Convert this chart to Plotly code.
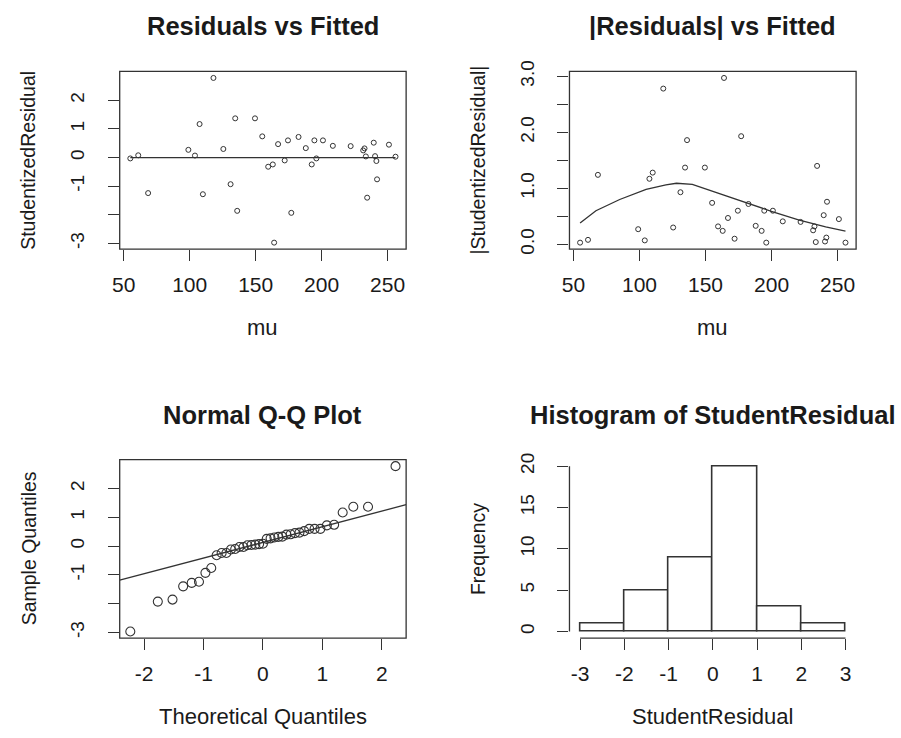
import plotly.graph_objects as go
from statistics import NormalDist

# ---------------- data ----------------
mu = [55, 61, 68.5, 99, 104, 107.5, 110, 118, 125.5, 131, 134.5, 136, 149.5, 155,
      159.5, 163, 164, 167, 172, 174.5, 177, 182.5, 188, 192.5, 194.5, 196, 201,
      208.5, 222, 231.5, 232.5, 233.5, 234.5, 239.5, 240.5, 241.5, 242, 251, 256]
student_residual = [-0.03, 0.08, -1.24, 0.27, 0.07, 1.17, -1.28, 2.78, 0.30, -0.93,
                    1.37, -1.86, 1.37, 0.74, -0.32, -0.24, -2.97, 0.47, -0.10, 0.60,
                    -1.93, 0.72, 0.33, -0.24, 0.60, -0.03, 0.60, 0.41, 0.40, 0.25,
                    0.32, 0.04, -1.40, 0.52, 0.05, -0.12, -0.76, 0.45, 0.03]
abs_residual = [abs(v) for v in student_residual]

lowess_x = [55, 67, 85, 105, 120, 128, 140, 160, 182, 201, 221, 241, 256]
lowess_y = [0.38, 0.60, 0.80, 0.98, 1.06, 1.09, 1.07, 0.91, 0.72, 0.58, 0.43, 0.31, 0.235]

hist_edges = [-3, -2, -1, 0, 1, 2, 3]
hist_counts = [1, 5, 9, 20, 3, 1]

titles = ["Residuals vs Fitted", "|Residuals| vs Fitted", "Normal Q-Q Plot",
          "Histogram of StudentResidual"]
xlabels = ["mu", "mu", "Theoretical Quantiles", "StudentResidual"]
ylabels = ["StudentizedResidual", "|StudentizedResidual|", "Sample Quantiles", "Frequency"]

y1_ticks = [-3, -2, -1, 0, 1, 2]
y1_text = ["-3", "", "-1", "0", "1", "2"]
y2_ticks = [0, 0.5, 1, 1.5, 2, 2.5, 3]
y2_text = ["0.0", "", "1.0", "", "2.0", "", "3.0"]
x1_ticks = [50, 100, 150, 200, 250]
x1_text = ["50", "100", "150", "200", "250"]
x3_ticks = [-2, -1, 0, 1, 2]
x3_text = ["-2", "-1", "0", "1", "2"]
x4_ticks = [-3, -2, -1, 0, 1, 2, 3]
x4_text = ["-3", "-2", "-1", "0", "1", "2", "3"]
y4_ticks = [0, 5, 10, 15, 20]
y4_text = ["0", "5", "10", "15", "20"]

# ---------------- derived (R-like) ----------------
n = len(student_residual)
sorted_res = sorted(student_residual)
nd = NormalDist()
theo = [nd.inv_cdf((i + 0.5) / n) for i in range(n)]


def quant7(vals, p):
    s = sorted(vals)
    h = (len(s) - 1) * p
    lo = int(h)
    hi = min(lo + 1, len(s) - 1)
    return s[lo] + (h - lo) * (s[hi] - s[lo])


q1, q3 = quant7(student_residual, 0.25), quant7(student_residual, 0.75)
t1, t3 = nd.inv_cdf(0.25), nd.inv_cdf(0.75)
slope = (q3 - q1) / (t3 - t1)
intercept = q1 - slope * t1


def rrange(vals):
    lo, hi = min(vals), max(vals)
    d = hi - lo
    return [lo - 0.04 * d, hi + 0.04 * d]


xr1 = rrange(mu)
yr1 = rrange(student_residual)
yr2 = rrange(abs_residual)
xr3 = rrange(theo)
yr3 = rrange(sorted_res)
xr4 = rrange(hist_edges)
yr4 = rrange([0, max(hist_counts)])

qq_line_x = xr3
qq_line_y = [intercept + slope * v for v in xr3]

# ---------------- figure ----------------
W, H = 901, 738
FONT = "Liberation Sans, Arial, Helvetica, sans-serif"
INK = "#1a1a1a"
LINE = "#333333"

fig = go.Figure()

# panel 1
fig.add_trace(go.Scatter(x=mu, y=student_residual, mode="markers", xaxis="x", yaxis="y",
                         marker=dict(symbol="circle-open", size=5, color=LINE,
                                     line=dict(width=1, color=LINE)), showlegend=False))
fig.add_trace(go.Scatter(x=[min(mu), max(mu)], y=[0, 0], mode="lines", xaxis="x", yaxis="y",
                         line=dict(color=LINE, width=1.3), showlegend=False))
# panel 2
fig.add_trace(go.Scatter(x=mu, y=abs_residual, mode="markers", xaxis="x2", yaxis="y2",
                         marker=dict(symbol="circle-open", size=5, color=LINE,
                                     line=dict(width=1, color=LINE)), showlegend=False))
fig.add_trace(go.Scatter(x=lowess_x, y=lowess_y, mode="lines", xaxis="x2", yaxis="y2",
                         line=dict(color=LINE, width=1.3), showlegend=False))
# panel 3
fig.add_trace(go.Scatter(x=theo, y=sorted_res, mode="markers", xaxis="x3", yaxis="y3",
                         marker=dict(symbol="circle-open", size=9, color=LINE,
                                     line=dict(width=1.1, color=LINE)), showlegend=False))
fig.add_trace(go.Scatter(x=qq_line_x, y=qq_line_y, mode="lines", xaxis="x3", yaxis="y3",
                         line=dict(color=LINE, width=1.3), showlegend=False))
# panel 4
centers = [(hist_edges[i] + hist_edges[i + 1]) / 2 for i in range(len(hist_counts))]
widths = [hist_edges[i + 1] - hist_edges[i] for i in range(len(hist_counts))]
fig.add_trace(go.Bar(x=centers, y=hist_counts, width=widths, xaxis="x4", yaxis="y4",
                     marker=dict(color="white", line=dict(color=LINE, width=1.6)),
                     showlegend=False))

# panel geometry in pixels: (left, right, top, bottom)
boxes = [(112.7, 401.7, 61.7, 243.5),
         (566.5, 855.7, 61.7, 243.5),
         (112.7, 401.7, 458.5, 641),
         (566.5, 855.7, 458.5, 641)]


def xd(b):
    return [b[0] / W, b[1] / W]


def yd(b):
    return [1 - b[3] / H, 1 - b[2] / H]


tickfont_x = dict(family=FONT, size=21, color=INK)
tickfont_y = dict(family=FONT, size=19, color=INK)
common_x = dict(showgrid=False, zeroline=False, showline=False, ticks="outside", ticklen=11,
                tickwidth=1.2, tickcolor=LINE, tickfont=tickfont_x, ticklabelstandoff=6)
common_y = dict(showgrid=False, zeroline=False, showline=False, ticks="outside", ticklen=11,
                tickwidth=1.2, tickcolor=LINE, tickfont=tickfont_y, tickangle=-90,
                ticklabelstandoff=16)

fig.update_layout(
    width=W, height=H, margin=dict(l=0, r=0, t=0, b=0),
    paper_bgcolor="white", plot_bgcolor="white", bargap=0,
    xaxis=dict(domain=xd(boxes[0]), range=xr1, anchor="y", tickvals=x1_ticks, ticktext=x1_text, **common_x),
    yaxis=dict(domain=yd(boxes[0]), range=yr1, anchor="x", tickvals=y1_ticks, ticktext=y1_text, **common_y),
    xaxis2=dict(domain=xd(boxes[1]), range=xr1, anchor="y2", tickvals=x1_ticks, ticktext=x1_text, **common_x),
    yaxis2=dict(domain=yd(boxes[1]), range=yr2, anchor="x2", tickvals=y2_ticks, ticktext=y2_text, **common_y),
    xaxis3=dict(domain=xd(boxes[2]), range=xr3, anchor="y3", tickvals=x3_ticks, ticktext=x3_text, **common_x),
    yaxis3=dict(domain=yd(boxes[2]), range=yr3, anchor="x3", tickvals=y1_ticks, ticktext=y1_text, **common_y),
    xaxis4=dict(domain=xd(boxes[3]), range=xr4, anchor="y4", tickvals=x4_ticks, ticktext=x4_text, **common_x),
    yaxis4=dict(domain=yd(boxes[3]), range=yr4, anchor="x4", tickvals=y4_ticks, ticktext=y4_text, **common_y),
)

shapes = []
for ax in ["", "2", "3"]:
    shapes.append(dict(type="rect", xref=f"x{ax} domain", yref=f"y{ax} domain",
                       x0=0, x1=1, y0=0, y1=1, line=dict(color=LINE, width=1.3)))
# histogram axis lines (R style, spanning first to last tick)
shapes.append(dict(type="line", xref="x4", yref="y4 domain", x0=x4_ticks[0], x1=x4_ticks[-1],
                   y0=0, y1=0, line=dict(color=LINE, width=1.3)))
shapes.append(dict(type="line", xref="x4 domain", yref="y4", x0=0, x1=0,
                   y0=y4_ticks[0], y1=y4_ticks[-1], line=dict(color=LINE, width=1.3)))
fig.update_layout(shapes=shapes)

annotations = []
for i, b in enumerate(boxes):
    cx = (b[0] + b[1]) / 2
    cy = (b[2] + b[3]) / 2
    annotations.append(dict(text=f"<b>{titles[i]}</b>", x=cx / W, y=1 - (b[2] - 46) / H,
                            xref="paper", yref="paper", showarrow=False,
                            xanchor="center", yanchor="middle",
                            font=dict(family=FONT, size=25.5, color=INK)))
    annotations.append(dict(text=xlabels[i], x=cx / W, y=1 - (b[3] + 80) / H,
                            xref="paper", yref="paper", showarrow=False,
                            xanchor="center", yanchor="middle",
                            font=dict(family=FONT, size=22, color=INK)))
    annotations.append(dict(text=ylabels[i], x=(b[0] - 92) / W, y=1 - cy / H,
                            xref="paper", yref="paper", showarrow=False, textangle=-90,
                            xanchor="center", yanchor="middle",
                            font=dict(family=FONT, size=19.5, color=INK)))
fig.update_layout(annotations=annotations)

fig.write_html("out.html", config={"displayModeBar": False},
               post_script="document.body.style.margin='0';document.body.style.overflow='hidden';")
